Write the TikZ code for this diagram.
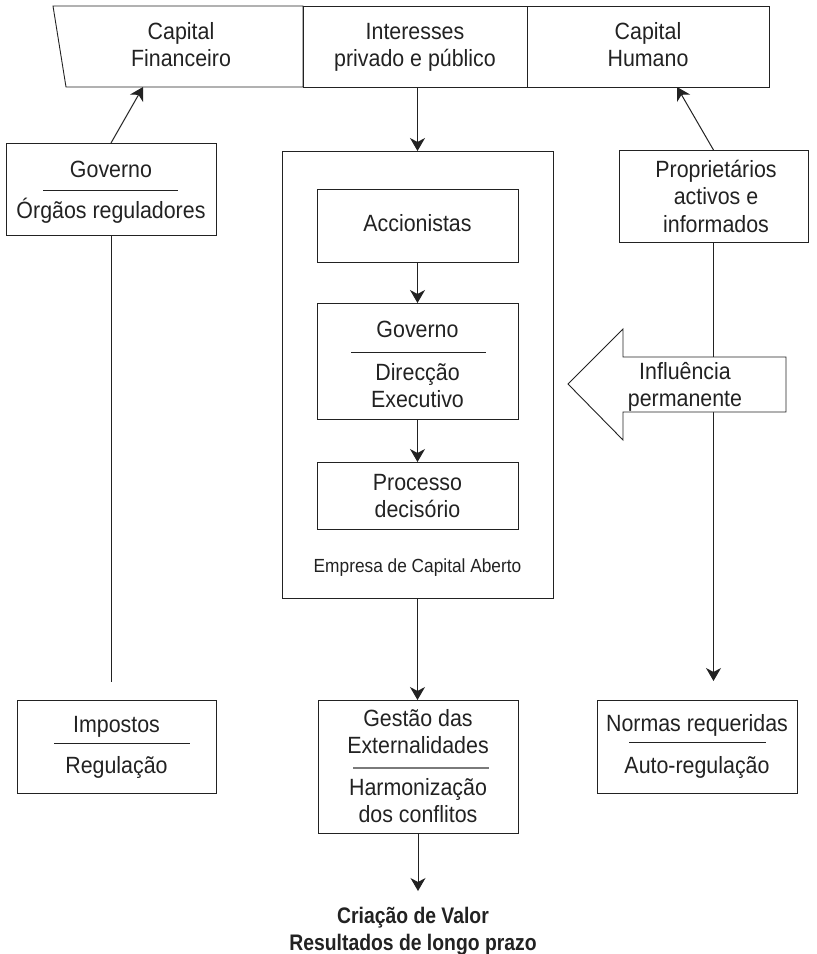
\documentclass[tikz,border=0pt]{standalone}
\usepackage{fontspec}
\setmainfont{Liberation Sans}[FakeStretch=0.91]
\newfontfamily\condbold{Liberation Sans}[FakeStretch=0.86]
\usetikzlibrary{arrows.meta,calc}
\definecolor{ink}{HTML}{222222}
\definecolor{midgray}{HTML}{7A7A7A}
\begin{document}
\begin{tikzpicture}[x=1pt,y=-1pt,
  box/.style={draw=ink,line width=0.9pt,inner sep=0pt,outer sep=0pt},
  txt/.style={text=ink,align=center,inner sep=0pt,anchor=base,
              font=\fontsize{23.5}{26.5}\selectfont},
  small/.style={txt,font=\fontsize{19}{22}\selectfont},
  result/.style={txt,font=\condbold\bfseries\fontsize{22.5}{27}\selectfont},
  rule/.style={draw=ink,line width=0.8pt},
  arr/.style={draw=ink,line width=1pt,-{Stealth[length=13pt,width=15pt,inset=4pt]}},
  plain/.style={draw=ink,line width=1pt}]
\useasboundingbox (0,0) rectangle (817,954);

% top bar (multi-line texts are placed by the baseline of their last line)
\draw[ink,line width=0.9pt] (53,6) -- (303,6) -- (303,87) -- (66,87) -- cycle;
\node[inner sep=0pt] (capfin) at (181,46.5) {};
\node[box,minimum width=224,minimum height=81] (intr) at (415,46.5) {};
\node[box,minimum width=242,minimum height=81] (caphum) at (648,46.5) {};
\node[txt] (capfinT) at (181,66) {Capital\\Financeiro};
\node[txt] (intrT) at (415,66) {Interesses\\privado e público};
\node[txt] (caphumT) at (648,66) {Capital\\Humano};
\coordinate (capfinB) at (143,87);
\coordinate (caphumB) at (677,87);

% left column
\node[box,minimum width=210,minimum height=92] (gov) at (111,189) {};
\node[txt] (govA) at (111,177) {Governo};
\draw[rule] (43,190) -- (178,190);
\node[txt] (govB) at (111,218) {Órgãos reguladores};
\coordinate (govEnd) at (111,682);

\node[box,minimum width=199,minimum height=93] (imp) at (116.5,746.5) {};
\node[txt] (impA) at (116.5,732) {Impostos};
\draw[rule] (54,743) -- (190,743);
\node[txt] (impB) at (116.5,773) {Regulação};

% central company block
\node[box,minimum width=271,minimum height=447] (emp) at (417.5,374.5) {};
\node[box,minimum width=201,minimum height=73] (acc) at (417.5,225.5) {};
\node[txt] (accT) at (417.5,231) {Accionistas};
\node[box,minimum width=201,minimum height=116] (dir) at (417.5,361) {};
\node[txt] (dirA) at (417.5,337) {Governo};
\draw[rule] (351,352) -- (486,352);
\node[txt] (dirB) at (417.5,407) {Direcção\\Executivo};
\node[box,minimum width=201,minimum height=67] (proc) at (417.5,495.5) {};
\node[txt] (procT) at (417.5,517) {Processo\\decisório};
\node[small] (empT) at (417.5,572) {Empresa de Capital Aberto};

\node[box,minimum width=200,minimum height=133] (gest) at (418,766.5) {};
\node[txt] (gestA) at (418,753) {Gestão das\\Externalidades};
\draw[draw=midgray,line width=2.2pt] (353,768) -- (489,768);
\node[txt] (gestB) at (418,822) {Harmonização\\dos conflitos};

\node[result] (res) at (413,950) {Criação de Valor\\Resultados de longo prazo};
\coordinate (resTop) at (418,891);

% right column
\node[box,minimum width=189,minimum height=92] (prop) at (713.5,196) {};
\node[txt,font=\fontsize{23.5}{27.5}\selectfont] (propT) at (716,232) {Proprietários\\activos e\\informados};
\coordinate (propEnd) at (713.5,681);

\node[box,minimum width=200,minimum height=93] (norm) at (697,746.5) {};
\node[txt] (normA) at (697,731) {Normas requeridas};
\draw[rule] (629,742) -- (766,742);
\node[txt] (normB) at (697,773) {Auto-regulação};

% connectors
\draw[arr] (gov.north) -- (capfinB);
\draw[arr] (prop.north) -- (caphumB);
\draw[arr] (emp.north |- intr.south) -- (emp.north);
\draw[arr] (acc.south) -- (dir.north);
\draw[arr] (dir.south) -- (proc.north);
\draw[arr] (emp.south) -- (emp.south |- gest.north);
\draw[arr] (gest.south -| resTop) -- (resTop);
\draw[plain] (gov.south) -- (govEnd);
\draw[arr] (prop.south) -- (propEnd);

% broad arrow of permanent influence, drawn over the vertical line
\draw[ink,line width=0.9pt,fill=white,line join=miter]
  (568,384) -- (623,329) -- (623,357) -- (786,357) -- (786,412)
  -- (623,412) -- (623,440) -- cycle;
\node[txt] (inflT) at (685,406) {Influência\\permanente};
\end{tikzpicture}
\end{document}
